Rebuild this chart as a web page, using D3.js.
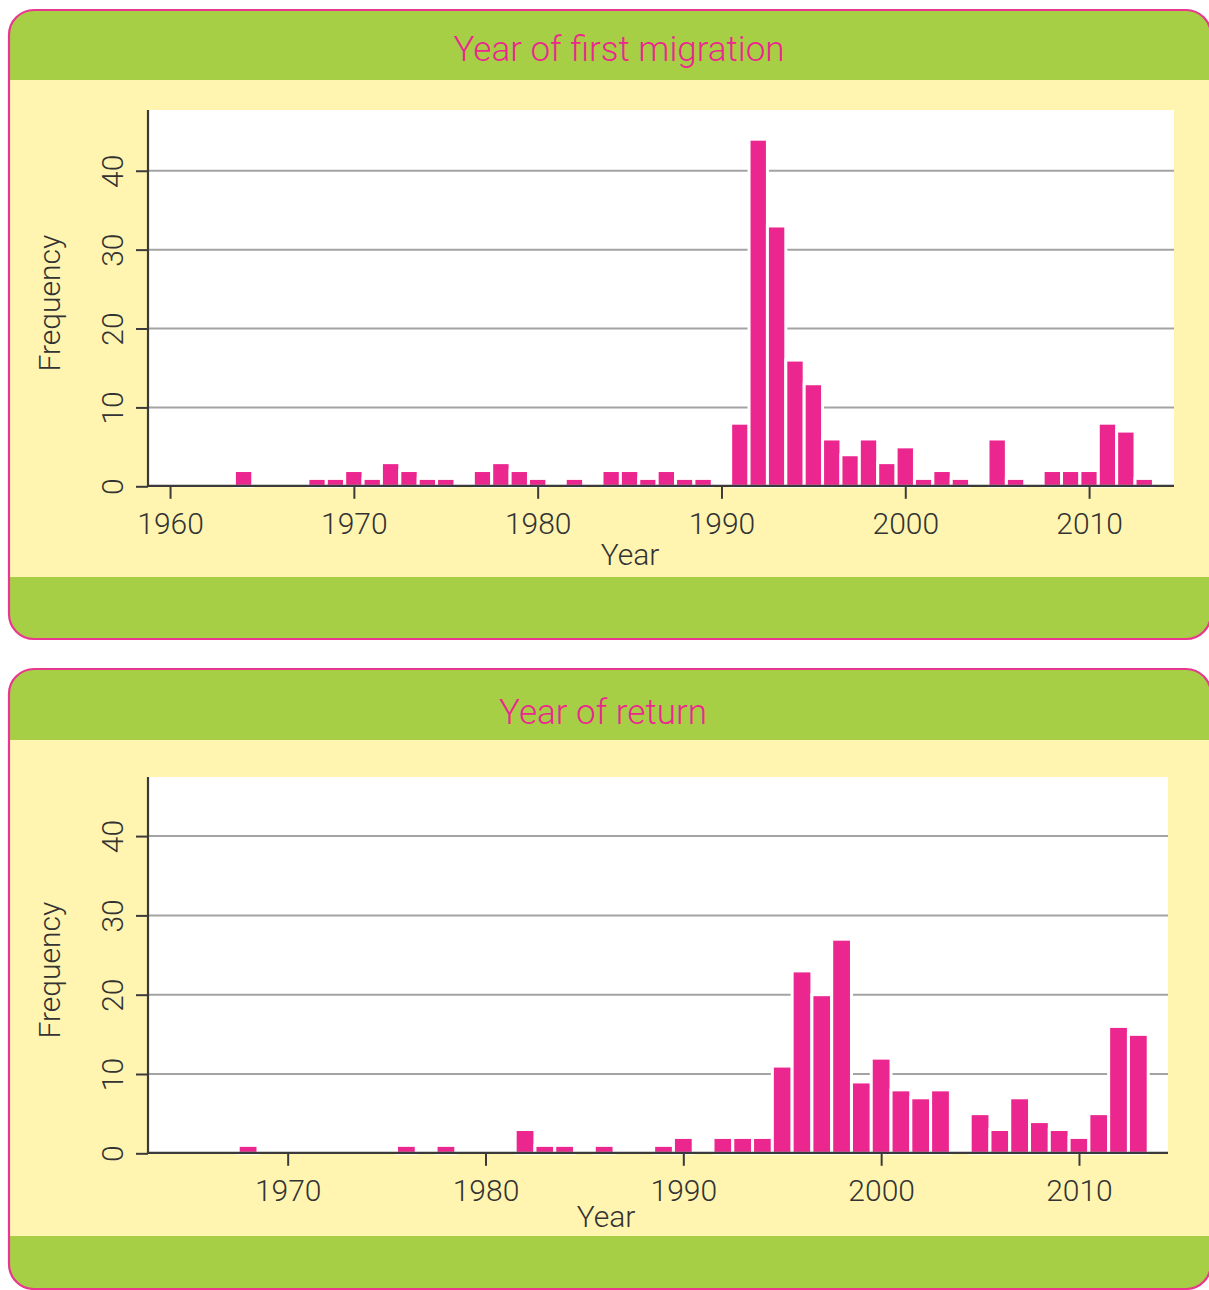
<!DOCTYPE html>
<html>
<head>
<meta charset="utf-8">
<script src="https://cdn.jsdelivr.net/npm/d3@7"></script>
<style>
  html, body { margin: 0; padding: 0; background: #ffffff; }
  svg { display: block; }
  text { font-family: Roboto, "Open Sans", sans-serif; font-weight: 300; }
</style>
</head>
<body>
<svg id="chart" width="1209" height="1290"></svg>
<script>
// ---------- data ----------
const migrationYears  = [1964,1968,1969,1970,1971,1972,1973,1974,1975,1977,1978,1979,1980,1982,1984,1985,1986,1987,1988,1989,1991,1992,1993,1994,1995,1996,1997,1998,1999,2000,2001,2002,2003,2005,2006,2008,2009,2010,2011,2012,2013];
const migrationCounts = [2,1,1,2,1,3,2,1,1,2,3,2,1,1,2,2,1,2,1,1,8,44,33,16,13,6,4,6,3,5,1,2,1,6,1,2,2,2,8,7,1];

const returnYears  = [1968,1976,1978,1982,1983,1984,1986,1989,1990,1992,1993,1994,1995,1996,1997,1998,1999,2000,2001,2002,2003,2005,2006,2007,2008,2009,2010,2011,2012,2013];
const returnCounts = [1,1,1,3,1,1,1,1,2,2,2,2,11,23,20,27,9,12,8,7,8,5,3,7,4,3,2,5,16,15];

const migrationXTicks = [1960,1970,1980,1990,2000,2010];
const returnXTicks    = [1970,1980,1990,2000,2010];
const yTicks = [0,10,20,30,40];
const titles = ["Year of first migration", "Year of return"];
const xLabel = "Year";
const yLabel = "Frequency";

// ---------- style ----------
const PINK = "#ec268f", GREEN = "#a7cf45", YELLOW = "#fff5b0", BORDER = "#e9378f";
const TEXT = "#333333", GRID = "#a3a3a3", AXIS = "#3a3a3a";

const svg = d3.select("#chart");

function panel(cfg) {
  const g = svg.append("g");
  const clipId = "clip" + cfg.id;
  g.append("clipPath").attr("id", clipId)
    .append("rect").attr("x", cfg.px).attr("y", cfg.py).attr("width", cfg.pw).attr("height", cfg.ph).attr("rx", 25);
  const inner = g.append("g").attr("clip-path", `url(#${clipId})`);
  inner.append("rect").attr("x", cfg.px).attr("y", cfg.py).attr("width", cfg.pw).attr("height", cfg.ph).attr("fill", GREEN);
  inner.append("rect").attr("x", cfg.px).attr("y", cfg.yellowTop).attr("width", cfg.pw)
    .attr("height", cfg.yellowBottom - cfg.yellowTop).attr("fill", YELLOW);
  g.append("rect").attr("x", cfg.px).attr("y", cfg.py).attr("width", cfg.pw).attr("height", cfg.ph).attr("rx", 25)
    .attr("fill", "none").attr("stroke", BORDER).attr("stroke-width", 2.2);

  g.append("text").attr("x", cfg.titleX).attr("y", cfg.titleY).attr("text-anchor", "middle")
    .attr("fill", PINK).attr("font-size", 35).text(cfg.title);

  const x = d3.scaleLinear().domain(cfg.xDomain).range([cfg.left, cfg.right]);
  const y = d3.scaleLinear().domain([0, cfg.yMax]).range([cfg.bottom, cfg.top]);

  g.append("rect").attr("x", cfg.left).attr("y", cfg.top).attr("width", cfg.right - cfg.left)
    .attr("height", cfg.bottom - cfg.top).attr("fill", "#ffffff");

  // grid lines
  g.selectAll(".grid").data(yTicks.filter(d => d > 0)).join("line")
    .attr("x1", cfg.left).attr("x2", cfg.right)
    .attr("y1", d => y(d)).attr("y2", d => y(d))
    .attr("stroke", GRID).attr("stroke-width", 2);

  // bars
  const data = cfg.years.map((yr, i) => ({ yr, v: cfg.counts[i] }));
  g.selectAll(".bar").data(data).join("rect")
    .attr("x", d => x(d.yr - 0.5))
    .attr("width", d => x(d.yr + 0.5) - x(d.yr - 0.5))
    .attr("y", d => y(d.v))
    .attr("height", d => y(0) - y(d.v))
    .attr("fill", PINK).attr("stroke", "#ffffff").attr("stroke-width", 3);

  // x axis
  const xAxis = d3.axisBottom(x).tickValues(cfg.xTicks).tickFormat(d3.format("d")).tickSize(13).tickPadding(14);
  const gx = g.append("g").attr("transform", `translate(0,${y(0) - 0.5})`).call(xAxis);
  gx.select(".domain").attr("d", `M${cfg.left},0H${cfg.right}`).attr("stroke", AXIS).attr("stroke-width", 2.2);
  gx.selectAll(".tick line").attr("stroke", AXIS).attr("stroke-width", 2);
  gx.selectAll(".tick text").attr("fill", TEXT).attr("font-size", 30).attr("font-family", "Roboto, sans-serif");

  // y axis
  const yAxis = d3.axisLeft(y).tickValues(yTicks).tickSize(12).tickPadding(0);
  const gy = g.append("g").attr("transform", `translate(${cfg.left},0)`).call(yAxis);
  gy.select(".domain").attr("d", `M0,${cfg.top}V${y(0)}`).attr("stroke", AXIS).attr("stroke-width", 2.2);
  gy.selectAll(".tick line").attr("stroke", AXIS).attr("stroke-width", 2);
  gy.selectAll(".tick text").attr("fill", TEXT).attr("font-size", 30).attr("font-family", "Roboto, sans-serif")
    .attr("text-anchor", "middle").attr("dy", null).attr("x", null)
    .attr("transform", "translate(-25,0) rotate(-90)");

  g.append("text").attr("x", cfg.xLabelX).attr("y", cfg.xLabelY).attr("text-anchor", "middle")
    .attr("fill", TEXT).attr("font-size", 30).text(xLabel);
  g.append("text").attr("transform", `translate(60,${(cfg.top + cfg.bottom) / 2 + 5}) rotate(-90)`)
    .attr("text-anchor", "middle").attr("fill", TEXT).attr("font-size", 30).text(yLabel);
}

panel({
  id: 1, px: 9, py: 10, pw: 1202, ph: 629, yellowTop: 80, yellowBottom: 577,
  title: titles[0], titleX: 619, titleY: 61,
  left: 148, right: 1174, top: 110, bottom: 486.3,
  xDomain: [1958.8, 2014.62], yMax: 47.7,
  years: migrationYears, counts: migrationCounts, xTicks: migrationXTicks,
  xLabelX: 630, xLabelY: 565
});

panel({
  id: 2, px: 9, py: 669, pw: 1202, ph: 620, yellowTop: 740, yellowBottom: 1236,
  title: titles[1], titleX: 603, titleY: 724,
  left: 148, right: 1168, top: 777, bottom: 1153.3,
  xDomain: [1962.94, 2014.5], yMax: 47.45,
  years: returnYears, counts: returnCounts, xTicks: returnXTicks,
  xLabelX: 606, xLabelY: 1227
});
</script>
</body>
</html>
